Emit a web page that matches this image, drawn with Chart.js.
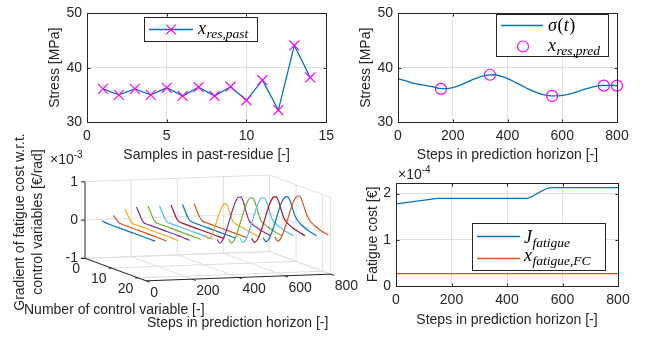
<!DOCTYPE html>
<html>
<head>
<meta charset="utf-8">
<title>Fatigue cost figure</title>
<script src="https://cdn.jsdelivr.net/npm/chart.js@4.4.1/dist/chart.umd.min.js"></script>
<style>
  body { margin: 0; background: #fff; }
  #fig { position: relative; width: 648px; height: 338px; overflow: hidden; background: #fff; }
  #fig canvas { position: absolute; }
</style>
</head>
<body>
<div id="fig">
  <canvas id="grad3d" width="360" height="208" style="left:0;top:130px"></canvas>
  <canvas id="pastChart" width="340" height="170" style="left:0;top:0"></canvas>
  <canvas id="predChart" width="308" height="170" style="left:340px;top:0"></canvas>
  <canvas id="costChart" width="308" height="178" style="left:340px;top:160px"></canvas>
</div>
<script>
// ---- top left: stress samples in the past residue
const pastSamples = [1, 2, 3, 4, 5, 6, 7, 8, 9, 10, 11, 12, 13, 14];
const pastStress = [36.1, 35.0, 36.1, 35.0, 36.3, 34.8, 36.4, 34.8, 36.5, 34.0, 37.7, 32.2, 44.1, 38.2];

// ---- top right: stress over the prediction horizon
const horizonSteps = [0, 25, 50, 75, 100, 125, 150, 175, 200, 225, 250, 275, 300, 325, 350, 375, 400,
  425, 450, 475, 500, 525, 550, 575, 600, 625, 650, 675, 700, 725, 750, 775, 800];
const sigmaStress = [38.0, 37.6, 37.2, 36.95, 36.75, 36.5, 36.2, 36.15, 36.35, 36.75, 37.3, 37.85, 38.3, 38.65, 38.7, 38.45, 38.0,
  37.4, 36.75, 36.1, 35.55, 35.1, 34.85, 34.8, 34.9, 35.15, 35.5, 35.9, 36.3, 36.6, 36.75, 36.75, 36.7];
const predSteps = [157, 336, 563, 752, 800];
const predStress = [36.1, 38.7, 34.8, 36.7, 36.7];

// ---- bottom right: fatigue cost
const costSteps = [0, 150, 470, 480, 500, 520, 540, 555, 800];
const fatigueCost = [1.78e-4, 1.895e-4, 1.895e-4, 1.91e-4, 1.97e-4, 2.04e-4, 2.10e-4, 2.13e-4, 2.13e-4];
const fcSteps = [0, 800];
const fatigueCostFC = [0.27e-4, 0.27e-4];

// ---- bottom left: gradient (x1e-3 EUR/rad), one curve per step position
const gradSteps = [50, 100, 150, 200, 250, 300, 350, 400, 450, 500, 550, 600, 650, 700, 750, 800];
const gradCvIndex = [2, 3, 4, 5, 6, 7, 8, 9, 10, 11, 12, 13, 14, 15, 17, 19, 22];
const gradValues = [
  [0.02, 0.01, 0, 0, 0, 0, 0, 0, 0, 0, 0, 0, 0, 0, 0, 0, 0],
  [0.15, 0.08, 0.02, 0, 0, 0, 0, 0, 0, 0, 0, 0, 0, 0, 0, 0, -0.01],
  [0.31, 0.18, 0.06, 0, 0, 0, 0, 0, 0, 0, 0, 0, 0, 0, 0, 0, -0.01],
  [0.35, 0.21, 0.07, 0, 0, 0, 0, 0, 0, 0, 0, 0, 0, 0, 0, 0, -0.01],
  [0.36, 0.22, 0.08, 0, 0, 0, 0, 0, 0, 0, 0, 0, 0, 0, 0, 0, 0],
  [0.36, 0.22, 0.08, 0, 0, 0, 0, 0, 0, 0, 0, 0, 0, 0, 0, 0, 0],
  [0.37, 0.22, 0.08, 0.01, 0, 0, 0, 0, 0, 0, 0, 0, 0, 0, 0, 0, 0],
  [0.37, 0.22, 0.08, 0.01, 0, 0, 0, 0, 0, 0, 0, 0, 0, 0, 0, 0, 0],
  [0.38, 0.23, 0.09, 0.01, 0, 0, 0, 0, 0, 0, 0, 0, 0, 0, 0, 0, 0],
  [-0.45, -0.52, -0.44, -0.26, -0.02, 0.22, 0.42, 0.55, 0.55, 0.38, 0.20, 0.14, 0.12, 0.11, 0.08, 0.05, 0.02],
  [-0.58, -0.65, -0.55, -0.36, -0.12, 0.14, 0.39, 0.60, 0.73, 0.76, 0.63, 0.40, 0.22, 0.17, 0.11, 0.07, 0.03],
  [-0.58, -0.66, -0.56, -0.37, -0.13, 0.12, 0.37, 0.57, 0.70, 0.73, 0.62, 0.41, 0.23, 0.17, 0.11, 0.06, 0.02],
  [-0.57, -0.65, -0.56, -0.38, -0.14, 0.11, 0.36, 0.56, 0.69, 0.72, 0.62, 0.42, 0.24, 0.17, 0.10, 0.05, 0.01],
  [-0.58, -0.66, -0.58, -0.41, -0.18, 0.07, 0.32, 0.54, 0.69, 0.74, 0.66, 0.46, 0.27, 0.18, 0.10, 0.05, 0.0],
  [-0.57, -0.65, -0.57, -0.40, -0.17, 0.08, 0.33, 0.54, 0.68, 0.73, 0.66, 0.47, 0.29, 0.20, 0.10, 0.04, -0.01],
  [-0.57, -0.65, -0.58, -0.41, -0.19, 0.06, 0.31, 0.53, 0.68, 0.74, 0.68, 0.50, 0.32, 0.21, 0.11, 0.05, 0.0]
];
const stepTicks3d = [0, 200, 400, 600, 800];
const cvTicks3d = [0, 10, 20];
const gradZTicks = [-1, 0, 1];
const stepLim = [0, 800], cvLim = [0, 23], zLim = [-1, 1];

const AXIS_COLOR = '#262626';
const GRID_COLOR = '#dfdfdf';
const FONT = '"Liberation Sans", Arial, sans-serif';
const MATH = '"Liberation Serif", "Times New Roman", serif';
const lineColors = ['#0072BD', '#D95319', '#EDB120', '#7E2F8E', '#77AC30', '#4DBEEE', '#A2142F'];
const MAGENTA = '#ff00ff';

// view of the 3d box, page pixels per data unit
const view3d = { ox: 85, oy: 258.3, sx: 0.2306, sy: -0.008375, cx: 2.66, cy: 0.98, zy: 38.3 };
function proj(s, c, z) {
  return {
    x: view3d.ox + view3d.sx * s + view3d.cx * c,
    y: view3d.oy + view3d.sy * s + view3d.cy * c - view3d.zy * (z - zLim[0])
  };
}

function drawMath(ctx, parts, x, y) {
  parts.forEach(([txt, kind]) => {
    const sub = kind === 'sub';
    ctx.font = (kind === 'up' ? '' : 'italic ') + (sub ? '13.5px ' : '18px ') + MATH;
    ctx.fillText(txt, x, sub ? y + 4 : y);
    x += ctx.measureText(txt).width + (sub ? 0.4 * txt.length : 0.5);
  });
}

function drawMarker(ctx, kind, x, y, r, color) {
  ctx.save();
  ctx.strokeStyle = color; ctx.lineWidth = 1.2;
  ctx.beginPath();
  if (kind === 'cross') {
    const h = r * 0.707;
    ctx.moveTo(x - h, y - h); ctx.lineTo(x + h, y + h);
    ctx.moveTo(x - h, y + h); ctx.lineTo(x + h, y - h);
  } else {
    ctx.arc(x, y, r, 0, Math.PI * 2);
  }
  ctx.stroke();
  ctx.restore();
}

const decoById = {};
const matlabDeco = {
  id: 'matlabDeco',
  afterDraw(chart) {
    const d = decoById[chart.canvas.id];
    const ctx = chart.ctx, a = chart.chartArea;
    const L = Math.round(a.left) + 0.5, R = Math.round(a.right) + 0.5;
    const T = Math.round(a.top) + 0.5, B = Math.round(a.bottom) + 0.5;
    ctx.save();
    ctx.strokeStyle = AXIS_COLOR; ctx.lineWidth = 1;
    ctx.beginPath();
    chart.scales.x.ticks.forEach(t => {
      const p = Math.round(chart.scales.x.getPixelForValue(t.value)) + 0.5;
      ctx.moveTo(p, B); ctx.lineTo(p, B - 3);
      ctx.moveTo(p, T); ctx.lineTo(p, T + 3);
    });
    chart.scales.y.ticks.forEach(t => {
      const p = Math.round(chart.scales.y.getPixelForValue(t.value)) + 0.5;
      ctx.moveTo(L, p); ctx.lineTo(L + 3, p);
      ctx.moveTo(R, p); ctx.lineTo(R - 3, p);
    });
    ctx.stroke();
    ctx.strokeRect(L, T, R - L, B - T);

    // axis titles
    ctx.fillStyle = AXIS_COLOR;
    ctx.font = '14px ' + FONT;
    ctx.textAlign = 'center'; ctx.textBaseline = 'middle';
    ctx.fillText(d.xTitle, (a.left + a.right) / 2, a.bottom + d.xTitleGap);
    ctx.save();
    ctx.translate(a.left - d.yTitleGap, (a.top + a.bottom) / 2);
    ctx.rotate(-Math.PI / 2);
    ctx.fillText(d.yTitle, 0, 0);
    ctx.restore();

    if (d.exponent) {
      ctx.textAlign = 'left';
      ctx.fillText('\u00d710', d.exponent.x, d.exponent.y);
      const w = ctx.measureText('\u00d710').width;
      ctx.font = '10px ' + FONT;
      ctx.fillText(d.exponent.power, d.exponent.x + w, d.exponent.y - 5);
    }

    // legend
    const lg = d.legend;
    ctx.fillStyle = '#fff';
    ctx.fillRect(lg.x, lg.y, lg.w, lg.h);
    ctx.strokeStyle = AXIS_COLOR; ctx.lineWidth = 1;
    ctx.strokeRect(lg.x + 0.5, lg.y + 0.5, lg.w, lg.h);
    ctx.textAlign = 'left'; ctx.textBaseline = 'alphabetic';
    lg.items.forEach(it => {
      const ds = chart.data.datasets[it.dataset];
      if (it.line) {
        ctx.strokeStyle = ds.borderColor; ctx.lineWidth = ds.borderWidth;
        ctx.beginPath(); ctx.moveTo(it.line[0], it.y); ctx.lineTo(it.line[1], it.y); ctx.stroke();
      }
      if (it.marker) drawMarker(ctx, it.marker, it.mx, it.y, ds.pointRadius, ds.pointBorderColor);
      ctx.fillStyle = '#000';
      drawMath(ctx, it.math, it.tx, it.ty);
    });
    ctx.restore();
  }
};

function tickFont() { return { family: FONT, size: 14 }; }

function planeChart(id, datasets, ax) {
  return new Chart(document.getElementById(id), {
    type: 'scatter',
    data: { datasets },
    options: {
      responsive: false, animation: false, devicePixelRatio: 1,
      layout: { autoPadding: false, padding: ax.padding },
      plugins: { legend: { display: false }, tooltip: { enabled: false } },
      scales: {
        x: {
          type: 'linear', min: ax.x[0], max: ax.x[1],
          ticks: { stepSize: ax.x[2], includeBounds: false, autoSkip: false, maxRotation: 0, padding: 6,
                   color: AXIS_COLOR, font: tickFont() },
          grid: { color: GRID_COLOR, drawTicks: false }, border: { display: false },
          afterFit: s => { s.height = 40; }
        },
        y: {
          type: 'linear', min: ax.y[0], max: ax.y[1],
          ticks: { stepSize: ax.y[2], includeBounds: false, autoSkip: false, padding: 5,
                   color: AXIS_COLOR, font: tickFont(), callback: ax.yFormat || (v => v) },
          grid: { color: GRID_COLOR, drawTicks: false }, border: { display: false },
          afterFit: s => { s.width = 40; }
        }
      }
    },
    plugins: [matlabDeco]
  });
}

// top left
decoById.pastChart = {
  xTitle: 'Samples in past-residue [-]', xTitleGap: 33,
  yTitle: 'Stress [MPa]', yTitleGap: 32,
  legend: { x: 144, y: 17, w: 113, h: 24, items: [
    { dataset: 0, line: [149, 193], marker: 'cross', mx: 171, y: 29.5, tx: 198, ty: 34,
      math: [['x', 'it'], ['res,past', 'sub']] }
  ] }
};
planeChart('pastChart', [{
  data: pastSamples.map((s, i) => ({ x: s, y: pastStress[i] })),
  showLine: true, borderColor: lineColors[0], borderWidth: 1.3,
  pointStyle: 'crossRot', pointRadius: 7, pointBorderColor: MAGENTA, pointBorderWidth: 1.2,
  pointBackgroundColor: 'rgba(0,0,0,0)', clip: false
}], { padding: { left: 47, top: 8, right: 12, bottom: 8 }, x: [0, 15, 5], y: [30, 50, 10] });

// top right
decoById.predChart = {
  xTitle: 'Steps in prediction horizon [-]', xTitleGap: 33,
  yTitle: 'Stress [MPa]', yTitleGap: 32,
  legend: { x: 156, y: 14, w: 112, h: 42, items: [
    { dataset: 0, line: [161, 203], y: 25.5, tx: 208, ty: 31,
      math: [['\u03c3', 'it'], ['(', 'up'], ['t', 'it'], [')', 'up']] },
    { dataset: 1, marker: 'circle', mx: 183, y: 46.5, tx: 208, ty: 51,
      math: [['x', 'it'], ['res,pred', 'sub']] }
  ] }
};
planeChart('predChart', [
  { data: horizonSteps.map((s, i) => ({ x: s, y: sigmaStress[i] })),
    showLine: true, borderColor: lineColors[0], borderWidth: 1.3, pointRadius: 0,
    cubicInterpolationMode: 'monotone' },
  { data: predSteps.map((s, i) => ({ x: s, y: predStress[i] })),
    showLine: false, pointStyle: 'circle', pointRadius: 5.5, pointBorderColor: MAGENTA,
    pointBorderWidth: 1.2, pointBackgroundColor: 'rgba(0,0,0,0)', borderColor: MAGENTA, clip: false }
], { padding: { left: 18, top: 8, right: 31, bottom: 8 }, x: [0, 800, 200], y: [30, 50, 10] });

// bottom right
decoById.costChart = {
  xTitle: 'Steps in prediction horizon [-]', xTitleGap: 34,
  yTitle: 'Fatigue cost [\u20ac]', yTitleGap: 23,
  exponent: { x: 58, y: 15, power: '-4' },
  legend: { x: 132, y: 63, w: 133, h: 47, items: [
    { dataset: 0, line: [137, 180], y: 76.5, tx: 184, ty: 83,
      math: [['J', 'it'], ['fatigue', 'sub']] },
    { dataset: 1, line: [137, 180], y: 98.5, tx: 184, ty: 101,
      math: [['x', 'it'], ['fatigue,FC', 'sub']] }
  ] }
};
planeChart('costChart', [
  { data: costSteps.map((s, i) => ({ x: s, y: fatigueCost[i] / 1e-4 })),
    showLine: true, borderColor: lineColors[0], borderWidth: 1.3, pointRadius: 0 },
  { data: fcSteps.map((s, i) => ({ x: s, y: fatigueCostFC[i] / 1e-4 })),
    showLine: true, borderColor: lineColors[1], borderWidth: 1.3, pointRadius: 0 }
], { padding: { left: 16, top: 23, right: 30, bottom: 12 }, x: [0, 800, 200], y: [0, 2.23, 1],
     yFormat: v => Math.round(v) });

// bottom left: 3d view
const gridSegments = [], axisSegments = [];
function addSeg(list, a, b) { list.push(proj(...a), proj(...b), { x: NaN, y: NaN }); }
stepTicks3d.forEach(s => { if (s > 0) addSeg(gridSegments, [s, 0, zLim[0]], [s, 0, zLim[1]]); });
gradZTicks.forEach(z => addSeg(gridSegments, [stepLim[0], 0, z], [stepLim[1], 0, z]));
cvTicks3d.concat([cvLim[1]]).forEach(c => addSeg(gridSegments, [stepLim[1], c, zLim[0]], [stepLim[1], c, zLim[1]]));
gradZTicks.forEach(z => addSeg(gridSegments, [stepLim[1], cvLim[0], z], [stepLim[1], cvLim[1], z]));
stepTicks3d.forEach(s => addSeg(gridSegments, [s, cvLim[0], zLim[0]], [s, cvLim[1], zLim[0]]));
cvTicks3d.forEach(c => addSeg(gridSegments, [stepLim[0], c, zLim[0]], [stepLim[1], c, zLim[0]]));

addSeg(axisSegments, [0, 0, zLim[0]], [0, 0, zLim[1]]);
addSeg(axisSegments, [0, cvLim[0], zLim[0]], [0, cvLim[1], zLim[0]]);
addSeg(axisSegments, [stepLim[0], cvLim[1], zLim[0]], [stepLim[1], cvLim[1], zLim[0]]);
gradZTicks.forEach(z => addSeg(axisSegments, [0, 0, z], [-18, 0, z]));
cvTicks3d.forEach(c => addSeg(axisSegments, [0, c, zLim[0]], [-14, c, zLim[0]]));
stepTicks3d.forEach(s => addSeg(axisSegments, [s, cvLim[1], zLim[0]], [s, cvLim[1] + 1.3, zLim[0]]));

const grad3dSets = [
  { data: gridSegments, borderColor: GRID_COLOR, borderWidth: 1, order: 1000 },
  { data: axisSegments, borderColor: AXIS_COLOR, borderWidth: 1, order: 999 }
].concat(gradSteps.map((s, k) => ({
  data: gradCvIndex.map((c, j) => proj(s, c, gradValues[k][j])),
  borderColor: lineColors[k % lineColors.length], borderWidth: 1.2,
  cubicInterpolationMode: 'monotone', order: 100 - k
})));
grad3dSets.forEach(ds => { ds.showLine = true; ds.pointRadius = 0; ds.spanGaps = false; });

const axes3dText = {
  id: 'axes3dText',
  afterDraw(chart) {
    const ctx = chart.ctx;
    const X = v => chart.scales.x.getPixelForValue(v);
    const Y = v => chart.scales.y.getPixelForValue(v);
    ctx.save();
    ctx.fillStyle = AXIS_COLOR;
    ctx.font = '14px ' + FONT;
    ctx.textBaseline = 'middle';
    ctx.textAlign = 'right';
    gradZTicks.forEach(z => { const p = proj(0, 0, z); ctx.fillText(String(z), X(p.x - 7), Y(p.y)); });
    cvTicks3d.forEach(c => { const p = proj(0, c, zLim[0]); ctx.fillText(String(c), X(p.x - 5), Y(p.y + 11)); });
    ctx.textAlign = 'left';
    stepTicks3d.forEach(s => { const p = proj(s, cvLim[1], zLim[0]); ctx.fillText(String(s), X(p.x + 4), Y(p.y + 12)); });
    ctx.fillText('Number of control variable [-]', X(24), Y(310));
    ctx.fillText('Steps in prediction horizon [-]', X(147), Y(323));
    ctx.fillText('\u00d710', X(50), Y(160));
    const w = ctx.measureText('\u00d710').width;
    ctx.font = '10px ' + FONT;
    ctx.fillText('-3', X(50) + w, Y(155));
    ctx.font = '14px ' + FONT;
    ctx.textAlign = 'center';
    ['Gradient of fatigue cost w.r.t.', 'control variables [\u20ac/rad]'].forEach((t, i) => {
      ctx.save();
      ctx.translate(X(20 + 18 * i), Y(222));
      ctx.rotate(-Math.PI / 2);
      ctx.fillText(t, 0, 0);
      ctx.restore();
    });
    ctx.restore();
  }
};

new Chart(document.getElementById('grad3d'), {
  type: 'scatter',
  data: { datasets: grad3dSets },
  options: {
    responsive: false, animation: false, devicePixelRatio: 1,
    layout: { autoPadding: false, padding: 0 },
    plugins: { legend: { display: false }, tooltip: { enabled: false } },
    scales: {
      x: { type: 'linear', display: false, min: 0, max: 360 },
      y: { type: 'linear', display: false, min: 130, max: 338, reverse: true }
    }
  },
  plugins: [axes3dText]
});
</script>
</body>
</html>
